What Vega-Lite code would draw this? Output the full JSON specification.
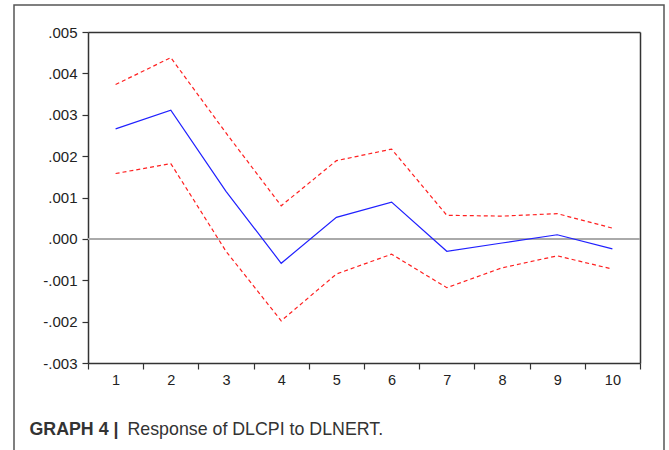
{
  "$schema": "https://vega.github.io/schema/vega-lite/v6.json",
  "width": 650,
  "height": 460,
  "autosize": {"type": "none"},
  "padding": {"left": 14, "top": 5, "right": 5, "bottom": 0},
  "background": "white",
  "config": {
    "view": {"stroke": "#555555", "strokeWidth": 1.5},
    "font": "Liberation Sans",
    "axis": {"labelFont": "Liberation Sans", "titleFont": "Liberation Sans", "labelColor": "#222222", "titleColor": "#222222", "domainColor": "#333333", "tickColor": "#333333", "domainWidth": 1.5, "tickWidth": 1.2}
  },
  "data": {
    "values": [
      {"step": 1, "series": "resp", "value": 0.00266},
      {"step": 2, "series": "resp", "value": 0.00311},
      {"step": 3, "series": "resp", "value": 0.00115},
      {"step": 4, "series": "resp", "value": -0.00059},
      {"step": 5, "series": "resp", "value": 0.00052},
      {"step": 6, "series": "resp", "value": 0.00089},
      {"step": 7, "series": "resp", "value": -0.00030},
      {"step": 8, "series": "resp", "value": -0.00010},
      {"step": 9, "series": "resp", "value": 0.00010},
      {"step": 10, "series": "resp", "value": -0.00024},
      {"step": 1, "series": "upper", "value": 0.00373},
      {"step": 2, "series": "upper", "value": 0.00438},
      {"step": 3, "series": "upper", "value": 0.00256},
      {"step": 4, "series": "upper", "value": 0.00080},
      {"step": 5, "series": "upper", "value": 0.00189},
      {"step": 6, "series": "upper", "value": 0.00217},
      {"step": 7, "series": "upper", "value": 0.00057},
      {"step": 8, "series": "upper", "value": 0.00055},
      {"step": 9, "series": "upper", "value": 0.00061},
      {"step": 10, "series": "upper", "value": 0.00026},
      {"step": 1, "series": "lower", "value": 0.00158},
      {"step": 2, "series": "lower", "value": 0.00182},
      {"step": 3, "series": "lower", "value": -0.00030},
      {"step": 4, "series": "lower", "value": -0.00198},
      {"step": 5, "series": "lower", "value": -0.00085},
      {"step": 6, "series": "lower", "value": -0.00037},
      {"step": 7, "series": "lower", "value": -0.00118},
      {"step": 8, "series": "lower", "value": -0.00070},
      {"step": 9, "series": "lower", "value": -0.00041},
      {"step": 10, "series": "lower", "value": -0.00073}
    ]
  },
  "resolve": {"axis": {"x": "independent", "y": "independent"}},
  "layer": [
    {
      "mark": {"type": "rule", "color": "#aaaaaa", "strokeWidth": 1.5},
      "encoding": {
        "x": {
          "datum": 1, "type": "ordinal", "bandPosition": 0,
          "scale": {"type": "band", "domain": [1,2,3,4,5,6,7,8,9,10], "range": [74, 626], "paddingInner": 0, "paddingOuter": 0},
          "axis": {"orient": "top", "offset": -27, "ticks": false, "labels": false, "grid": false, "title": null}
        },
        "x2": {"datum": 10, "bandPosition": 1},
        "y": {
          "datum": 0, "type": "quantitative",
          "scale": {"domain": [-0.003, 0.005], "range": [358, 27], "zero": false, "nice": false},
          "axis": {"orient": "right", "offset": -24, "ticks": false, "labels": false, "title": null, "grid": false}
        }
      }
    },
    {
      "transform": [{"filter": "datum.series === 'resp'"}],
      "mark": {"type": "line", "color": "#2020ff", "strokeWidth": 1.2},
      "encoding": {
        "x": {
          "field": "step", "type": "ordinal", "bandPosition": 0.5,
          "axis": {
            "orient": "bottom", "offset": -102, "labelAngle": 0, "tickBand": "extent", "tickSize": 6, "labelPadding": 4, "labelFontSize": 14.5, "grid": false,
            "title": "Response of DLCPI to DLNERT.", "titleX": 113, "titleY": 71, "titleAlign": "left", "titleBaseline": "alphabetic", "titleAngle": 0, "titleFontSize": 17.8, "titleFontWeight": "normal", "titleColor": "#333333"
          }
        },
        "y": {
          "field": "value", "type": "quantitative",
          "axis": {
            "orient": "left", "offset": -74, "values": [-0.003,-0.002,-0.001,0,0.001,0.002,0.003,0.004,0.005],
            "labelExpr": "(datum.value < -0.0000001 ? '-' : '') + replace(format(abs(datum.value), '.3f'), '0.', '.')", "grid": false, "tickSize": 6, "labelPadding": 5, "labelFontSize": 15,
            "title": "GRAPH 4 |", "titleX": -59, "titleY": 429, "titleAlign": "left", "titleBaseline": "alphabetic", "titleAngle": 0, "titleFontSize": 17.8, "titleFontWeight": "bold", "titleColor": "#333333"
          }
        }
      }
    },
    {
      "transform": [{"filter": "datum.series !== 'resp'"}],
      "mark": {"type": "line", "color": "#ff2020", "strokeWidth": 1.2, "strokeDash": [4, 3]},
      "encoding": {
        "detail": {"field": "series"},
        "x": {"field": "step", "type": "ordinal", "bandPosition": 0.5, "axis": null},
        "y": {"field": "value", "type": "quantitative", "axis": null}
      }
    }
  ]
}
